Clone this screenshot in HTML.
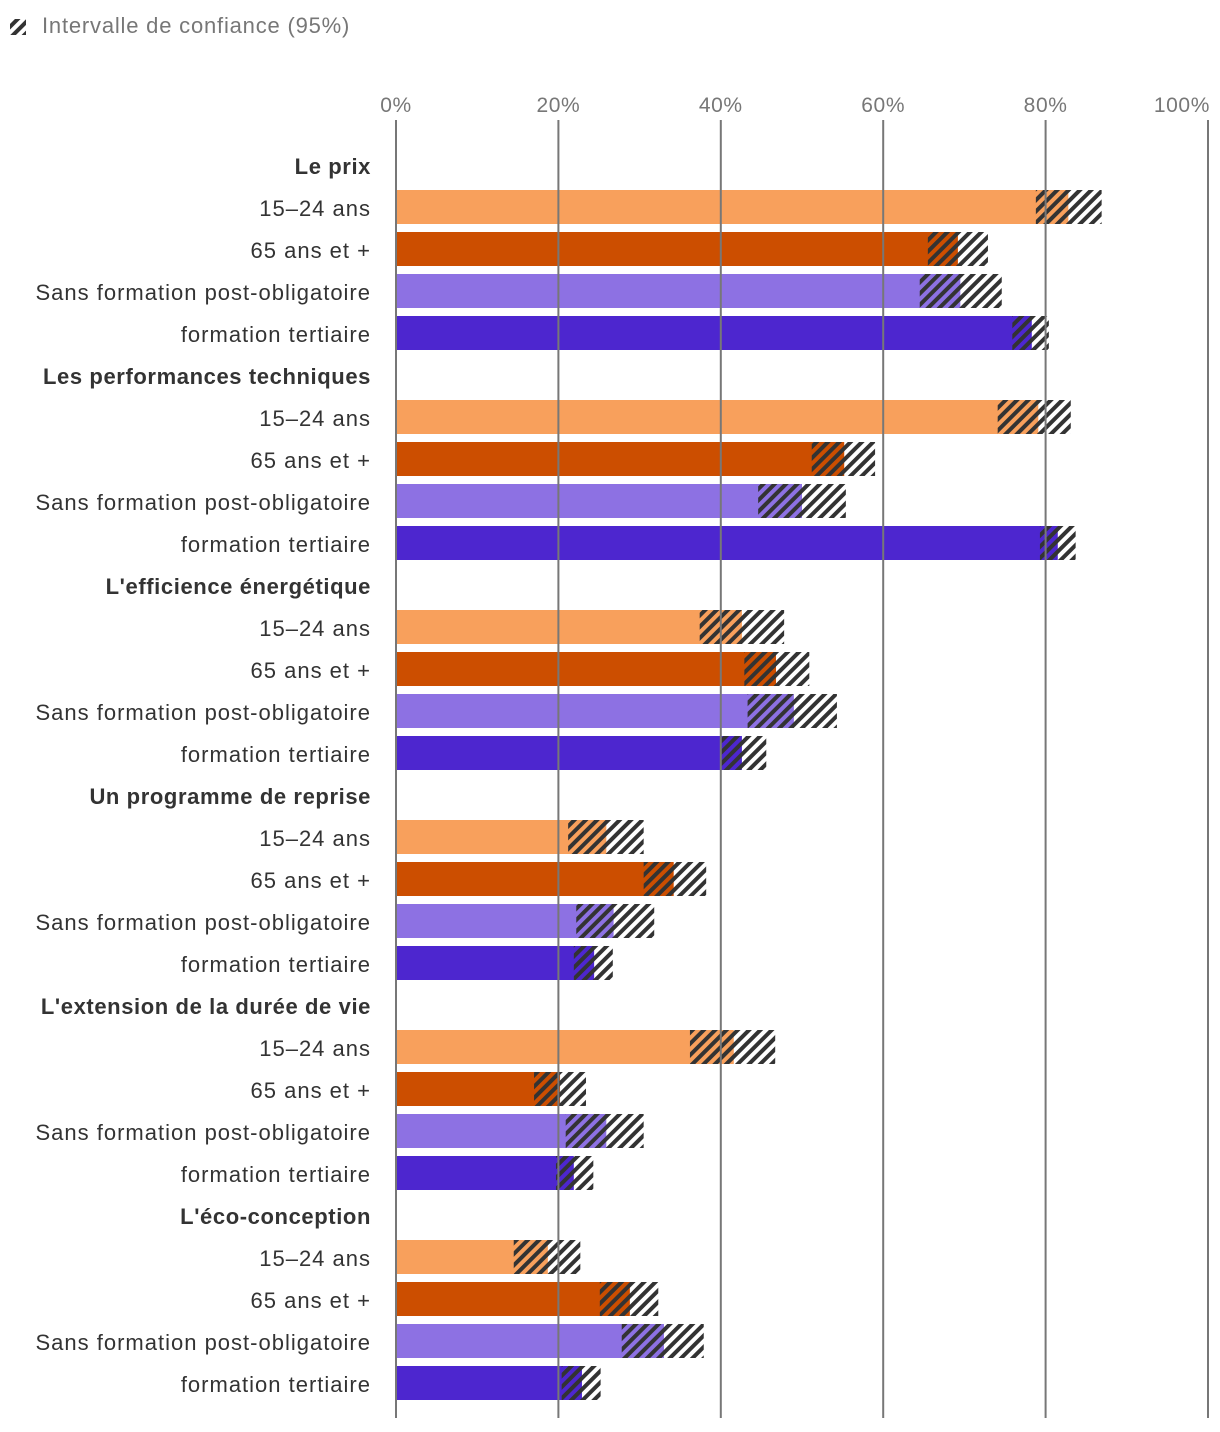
<!DOCTYPE html>
<html><head><meta charset="utf-8"><style>
html,body{margin:0;padding:0;background:#fff;}
svg{display:block;font-family:"Liberation Sans",sans-serif;}
</style></head><body>
<svg id="chart" width="1220" height="1432" viewBox="0 0 1220 1432" xmlns="http://www.w3.org/2000/svg">
<defs>
<pattern id="hatch" patternUnits="userSpaceOnUse" width="8" height="8" patternTransform="rotate(45)">
<rect x="0" y="0" width="4" height="8" fill="#333"/>
</pattern>
</defs>
<g>
<rect x="10" y="19" width="16" height="16" fill="url(#hatch)"/>
<text x="42" y="33" font-size="22" letter-spacing="0.8" fill="#777">Intervalle de confiance (95%)</text>
</g>
<g id="bars"></g>
<g id="grid"></g>
<g id="labels"></g>
</svg>
<script>
const groups = ["Le prix","Les performances techniques","L'efficience énergétique","Un programme de reprise","L'extension de la durée de vie","L'éco-conception"];
const subgroups = ["15–24 ans","65 ans et +","Sans formation post-obligatoire","formation tertiaire"];
const ticks = [0,20,40,60,80,100];
const values = [
 [82.8,69.2,69.5,78.3],[79.1,55.2,50.0,81.5],[42.6,46.8,49.0,42.6],
 [25.9,34.2,26.8,24.4],[41.6,20.2,25.9,21.9],[18.7,28.8,33.0,22.9]];
const lows = [
 [78.8,65.5,64.5,75.9],[74.1,51.2,44.6,79.3],[37.4,42.9,43.3,39.9],
 [21.2,30.5,22.2,21.9],[36.2,17.0,20.9,19.7],[14.5,25.1,27.8,20.4]];
const highs = [
 [86.9,72.9,74.6,80.4],[83.1,59.0,55.4,83.7],[47.8,50.9,54.3,45.6],
 [30.5,38.2,31.8,26.7],[46.7,23.4,30.5,24.3],[22.7,32.3,37.9,25.2]];
const colors = ["#f8a05c","#cc4e00","#8d71e3","#4d26cf"];

const NS="http://www.w3.org/2000/svg";
const x0=396, x1=1208;
const xs=v=>x0+(x1-x0)*v/100;
const rowY=(g,r)=>166+g*210+r*42;
function mk(tag,attrs,parent){const e=document.createElementNS(NS,tag);for(const k in attrs)e.setAttribute(k,attrs[k]);parent.appendChild(e);return e;}
const bars=document.getElementById('bars'),grid=document.getElementById('grid'),labels=document.getElementById('labels');
ticks.forEach((t,i)=>{
 const l=mk('line',{x1:xs(t),x2:xs(t),y1:120,y2:1418,stroke:'#777','stroke-width':2},grid);
 
 
 const last=i===ticks.length-1;
 const tx=mk('text',{x:last?1210:xs(t),y:112,'font-size':21,'letter-spacing':0.6,fill:'#777','text-anchor':last?'end':'middle'},labels);
 tx.textContent=t+'%';
 
 
});
groups.forEach((g,gi)=>{
 const h=mk('text',{x:371,y:rowY(gi,0)+8,'font-size':22,'letter-spacing':0.6,'font-weight':'bold',fill:'#333','text-anchor':'end'},labels);
 h.textContent=g;
 
 
 subgroups.forEach((s,si)=>{
  const cy=rowY(gi,si+1);
  const t=mk('text',{x:371,y:cy+8,'font-size':22,'letter-spacing':1,fill:'#333','text-anchor':'end'},labels);
  t.textContent=s;
  
  
  const b=mk('rect',{x:x0,y:cy-18,width:xs(values[gi][si])-x0,height:34,fill:colors[si]},bars);
  
  
  const c=mk('rect',{x:xs(lows[gi][si]),y:cy-18,width:xs(highs[gi][si])-xs(lows[gi][si]),height:34,fill:'url(#hatch)'},bars);
  
  
 });
});
</script>
</body></html>
